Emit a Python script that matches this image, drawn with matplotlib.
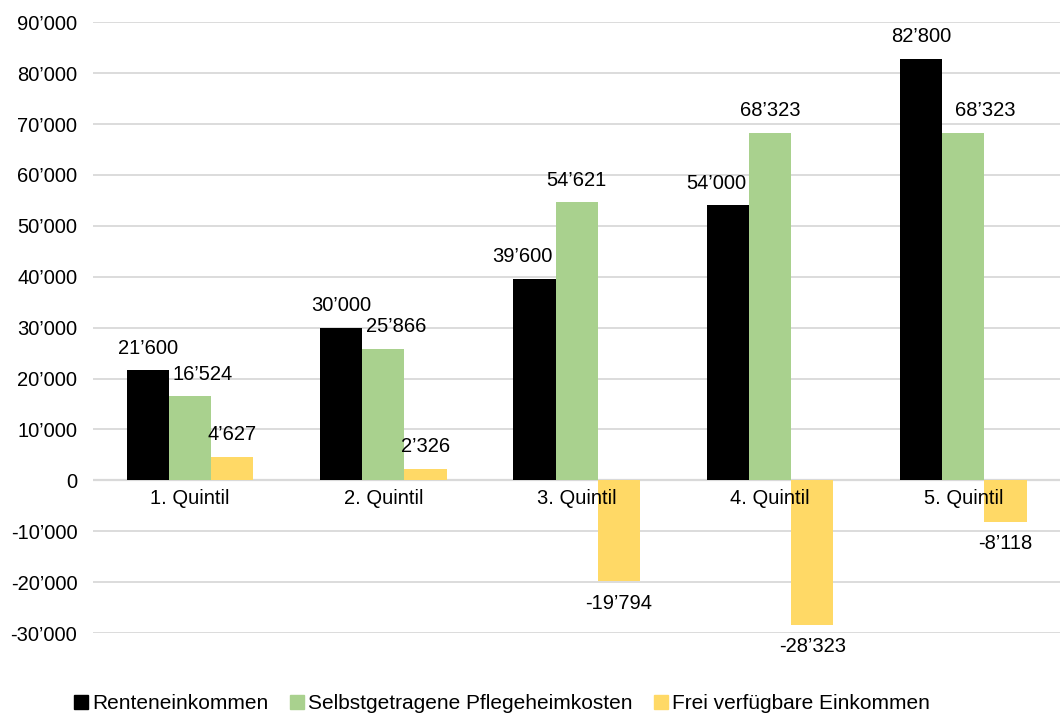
import numpy as np
import matplotlib
matplotlib.use('Agg')
import matplotlib.pyplot as plt
from matplotlib.lines import Line2D

plt.rcParams['font.family'] = ['Liberation Sans', 'DejaVu Sans']

# Data
categories = ['1. Quintil', '2. Quintil', '3. Quintil', '4. Quintil', '5. Quintil']
renten = [21600, 30000, 39600, 54000, 82800]
pflege = [16524, 25866, 54621, 68323, 68323]
frei = [4627, 2326, -19794, -28323, -8118]

series_names = ['Renteneinkommen', 'Selbstgetragene Pflegeheimkosten', 'Frei verfügbare Einkommen']
colors = ['#000000', '#A9D18E', '#FFD966']

# small horizontal nudges (points) for labels that Excel pushed aside
nudge = {(1, 0): 9, (1, 1): 9, (0, 2): -9, (0, 3): -8, (1, 4): 16}

FS = 14.5

def fmt(v):
    s = f"{abs(v):,}".replace(',', '\u2019')
    return ('-' if v < 0 else '') + s

fig = plt.figure(figsize=(10.6, 7.17), dpi=100)
ax = fig.add_axes([0.088, 0.117, 0.912, 0.852])

x = np.arange(len(categories))
w = 0.218
for i, (vals, col) in enumerate(zip([renten, pflege, frei], colors)):
    pos = x + (i - 1) * w
    ax.bar(pos, vals, width=w, color=col, zorder=3)
    for j, (px, v) in enumerate(zip(pos, vals)):
        dx = nudge.get((i, j), 0)
        if v >= 0:
            ax.annotate(fmt(v), (px, v), xytext=(dx, 9), textcoords='offset points',
                        ha='center', va='bottom', fontsize=FS, zorder=6)
        else:
            ax.annotate(fmt(v), (px, v), xytext=(dx, -9), textcoords='offset points',
                        ha='center', va='top', fontsize=FS, zorder=6)

ax.set_xlim(-0.5, len(categories) - 0.5)
ax.set_ylim(-30000, 90000)
yt = np.arange(-30000, 90001, 10000)
ax.set_yticks(yt)
ax.set_yticklabels([fmt(int(t)) for t in yt], fontsize=FS)
ax.tick_params(axis='y', length=0, pad=11.5)
ax.set_xticks([])

ax.grid(axis='y', color='#D9D9D9', linewidth=1.3, zorder=0)
ax.axhline(0, color='#D9D9D9', linewidth=1.6, zorder=2)
for s in ax.spines.values():
    s.set_visible(False)

# category labels just under the zero line
for xi, c in zip(x, categories):
    ax.annotate(c, (xi, 0), xytext=(0, -6), textcoords='offset points',
                ha='center', va='top', fontsize=FS, zorder=5)

handles = [Line2D([], [], marker='s', linestyle='none', color=c, markersize=10) for c in colors]
fig.legend(handles, series_names, loc='lower center', bbox_to_anchor=(0.472, -0.021),
           ncol=3, frameon=False, fontsize=15, handletextpad=0.0, columnspacing=0.9,
           handlelength=1.0)

fig.savefig('out.png', dpi=100)
